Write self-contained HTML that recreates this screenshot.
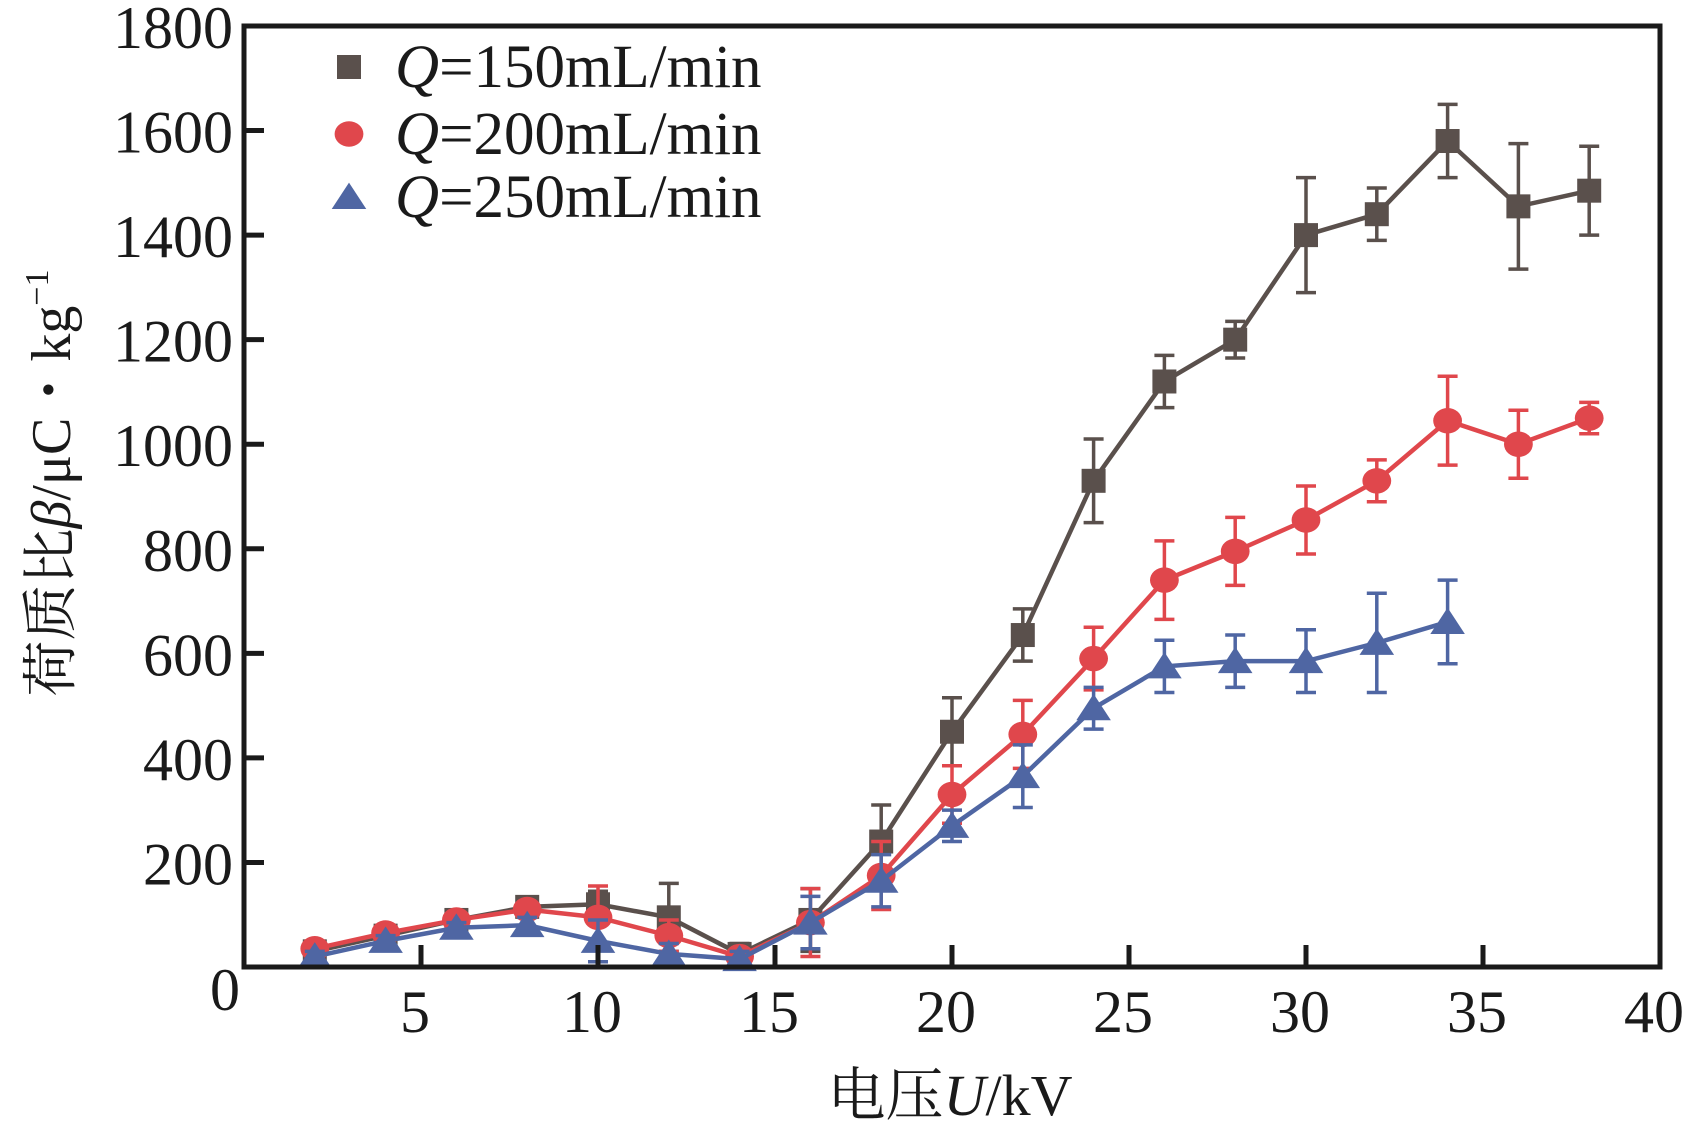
<!DOCTYPE html>
<html><head><meta charset="utf-8"><style>
html,body{margin:0;padding:0;background:#fff;}
svg{display:block;}
text{font-family:"Liberation Serif","Noto Serif CJK SC",serif;fill:#1a1a1a;}
</style></head><body>
<svg id="chart" width="1684" height="1134" viewBox="0 0 1684 1134" xmlns="http://www.w3.org/2000/svg">
<g id="plot"></g>
<g id="axes"></g>
<text transform="translate(70,483) rotate(-90)" text-anchor="middle" font-size="56">荷质比<tspan font-style="italic">β</tspan>/μC・kg<tspan font-size="34" dy="-22">−1</tspan></text>
<text x="950" y="1115" text-anchor="middle" font-size="58">电压<tspan font-style="italic">U</tspan>/kV</text>
<g id="legend"></g>
</svg>
<script>
const xs150 = [2,4,6,8,10,12,14,16,18,20,22,24,26,28,30,32,34,36,38];
const v150 = [30,60,90,115,120,95,25,90,240,450,635,930,1120,1200,1400,1440,1580,1455,1485];
const e150 = [10,10,10,12,25,65,20,60,70,65,50,80,50,35,110,50,70,120,85];
const xs200 = [2,4,6,8,10,12,14,16,18,20,22,24,26,28,30,32,34,36,38];
const v200 = [35,65,90,110,95,60,20,85,175,330,445,590,740,795,855,930,1045,1000,1050];
const e200 = [10,10,10,12,60,30,10,65,65,55,65,60,75,65,65,40,85,65,30];
const xs250 = [2,4,6,8,10,12,14,16,18,20,22,24,26,28,30,32,34];
const v250 = [20,50,75,80,50,25,15,85,165,270,365,495,575,585,585,620,660];
const e250 = [10,10,10,15,40,20,15,50,50,30,60,40,50,50,60,95,80];
const xTicks = [5,10,15,20,25,30,35,40];
const yTicks = [200,400,600,800,1000,1200,1400,1600,1800];
const legendLabels = ["=150mL/min","=200mL/min","=250mL/min"];

const NS="http://www.w3.org/2000/svg";
const L=244,R=1660,T=26,B=967;
const sx=v=>L+(v/40)*(R-L);
const sy=v=>B-(v/1800)*(B-T);
function mk(tag,attrs,parent){const e=document.createElementNS(NS,tag);for(const k in attrs)e.setAttribute(k,attrs[k]);parent.appendChild(e);return e;}
const axes=document.getElementById('axes'),plot=document.getElementById('plot'),legend=document.getElementById('legend');

const frame=mk('rect',{x:L,y:T,width:R-L,height:B-T,fill:'none',stroke:'#1a1a1a','stroke-width':5},axes);


xTicks.forEach(t=>{
  const tk=mk('line',{x1:sx(t),x2:sx(t),y1:B,y2:B-22,stroke:'#1a1a1a','stroke-width':5},axes);
  
  
  const lb=mk('text',{x:sx(t)-6,y:1032,'text-anchor':'middle','font-size':60},axes);
  lb.textContent=t;
  
  
});
yTicks.forEach(t=>{
  if(t<1800){
    const tk=mk('line',{x1:L,x2:L+20,y1:sy(t),y2:sy(t),stroke:'#1a1a1a','stroke-width':5},axes);
    
    
  }
  const lb=mk('text',{x:233,y:sy(t)+22,'text-anchor':'end','font-size':60},axes);
  lb.textContent=t;
  
  
});
const z=mk('text',{x:225,y:1010,'text-anchor':'middle','font-size':60},axes);
z.textContent='0';



function marker(type,cx,cy,color,parent,s){
  let e;
  if(type==='sq') e=mk('rect',{x:cx-s/2,y:cy-s/2,width:s,height:s,fill:color},parent);
  else if(type==='ci') e=mk('ellipse',{cx:cx,cy:cy,rx:s*0.6,ry:s*0.53,fill:color},parent);
  else e=mk('polygon',{points:`${cx},${cy-s*0.6} ${cx-s*0.72},${cy+s*0.5} ${cx+s*0.72},${cy+s*0.5}`,fill:color},parent);
  return e;
}
const series=[
 {name:'q150',xs:xs150,v:v150,e:e150,c:'#5a504c',m:'sq'},
 {name:'q200',xs:xs200,v:v200,e:e200,c:'#e0474c',m:'ci'},
 {name:'q250',xs:xs250,v:v250,e:e250,c:'#4f66a3',m:'tr'}
];
series.forEach(s=>{
  const g=mk('g',{},plot);
  
  
  s.xs.forEach((x,i)=>{
    const X=sx(x),y1=sy(s.v[i]+s.e[i]),y2=sy(s.v[i]-s.e[i]);
    const eb=mk('path',{d:`M${X},${y1}V${y2}M${X-10},${y1}H${X+10}M${X-10},${y2}H${X+10}`,stroke:s.c,'stroke-width':3.5,fill:'none'},g);
    
    
  });
  const ln=mk('polyline',{points:s.xs.map((x,i)=>sx(x)+','+sy(s.v[i])).join(' '),fill:'none',stroke:s.c,'stroke-width':4.5},g);
  
  
  s.xs.forEach((x,i)=>{
    const p=marker(s.m,sx(x),sy(s.v[i]),s.c,g,24);
    
    
  });
});
const ly=[67,134,197];
series.forEach((s,i)=>{
  const g=mk('g',{},legend);
  
  
  marker(s.m,349,ly[i],s.c,g,24);
  const t=mk('text',{x:395,y:ly[i]+20,'font-size':61},g);
  t.innerHTML='<tspan font-style="italic">Q</tspan>'+legendLabels[i];
});
</script>
</body></html>
